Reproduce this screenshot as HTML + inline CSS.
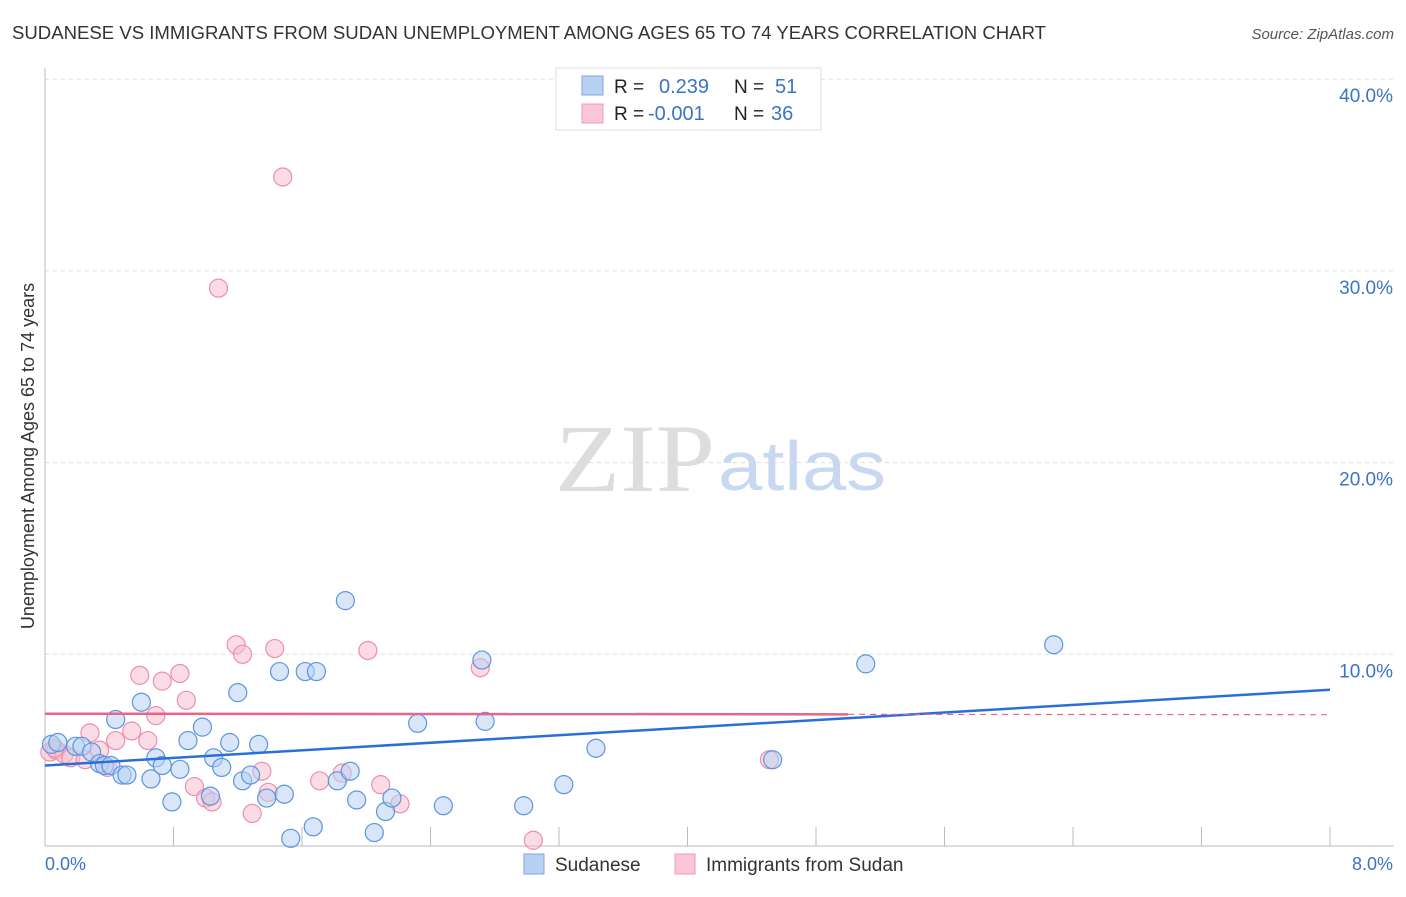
<!DOCTYPE html>
<html><head><meta charset="utf-8"><style>
body{margin:0;background:#fff;font-family:"Liberation Sans",sans-serif;}
</style></head><body>
<svg width="1406" height="892" id="chart" font-family="Liberation Sans, sans-serif">
<text x="12" y="39" font-size="18" fill="#333" textLength="1034" lengthAdjust="spacingAndGlyphs">SUDANESE VS IMMIGRANTS FROM SUDAN UNEMPLOYMENT AMONG AGES 65 TO 74 YEARS CORRELATION CHART</text>
<text x="1394" y="39" font-size="15" fill="#555" font-style="italic" text-anchor="end">Source: ZipAtlas.com</text>
<text x="555" y="491" font-size="96" fill="#ddd" textLength="160" lengthAdjust="spacingAndGlyphs" font-family="Liberation Serif, serif">ZIP</text>
<text x="718" y="490" font-size="70" fill="#c8d8f0" textLength="168" lengthAdjust="spacingAndGlyphs">atlas</text>
<g id="grid"></g>
<line x1="45" y1="68" x2="45" y2="846" stroke="#bbb"/>
<line x1="45" y1="846" x2="1394" y2="846" stroke="#bbb"/>
<text transform="translate(34,456) rotate(-90)" font-size="18" fill="#333" text-anchor="middle">Unemployment Among Ages 65 to 74 years</text>
<text x="45" y="870" font-size="18" fill="#3a74c9">0.0%</text>
<text x="1393" y="870" font-size="18" fill="#3a74c9" text-anchor="end">8.0%</text>
<g id="marks"></g>
<g>
<rect x="556" y="68" width="265" height="62" fill="#fff" stroke="#ddd"/>
<rect x="582" y="76" width="21" height="19" fill="#b8d1f3" stroke="#7aa6e6"/>
<rect x="582" y="104" width="21" height="19" fill="#fac6d6" stroke="#ee9ab5"/>
<text x="614" y="93" font-size="19" fill="#222">R = </text><text x="659" y="93" font-size="20" fill="#3a74c9">0.239</text>
<text x="734" y="93" font-size="19" fill="#222">N = </text><text x="775" y="93" font-size="20" fill="#3a74c9">51</text>
<text x="614" y="120" font-size="19" fill="#222">R = </text><text x="648" y="120" font-size="20" fill="#3a74c9">-0.001</text>
<text x="734" y="120" font-size="19" fill="#222">N = </text><text x="771" y="120" font-size="20" fill="#3a74c9">36</text>
</g>
<g>
<rect x="524" y="854" width="20" height="20" fill="#b8d1f3" stroke="#7aa6e6"/>
<text x="555" y="871" font-size="19" fill="#333">Sudanese</text>
<rect x="675" y="854" width="20" height="20" fill="#fac6d6" stroke="#ee9ab5"/>
<text x="706" y="871" font-size="19" fill="#333">Immigrants from Sudan</text>
</g>
</svg>
<script>
const yTicks=[10,20,30,40];
const yTickLabels=["10.0%","20.0%","30.0%","40.0%"];
const xTicks=[0.8,1.6,2.4,3.2,4.0,4.8,5.6,6.4,7.2,8.0];
const blueX=[0.04,0.08,0.19,0.23,0.29,0.34,0.37,0.41,0.48,0.51,0.60,0.44,0.66,0.69,0.73,0.79,0.84,0.89,0.98,1.03,1.05,1.10,1.15,1.20,1.23,1.28,1.33,1.38,1.46,1.49,1.53,1.62,1.69,1.67,1.82,1.87,1.90,1.94,2.05,2.12,2.16,2.32,2.48,2.72,2.74,2.98,3.23,3.43,5.11,6.28,4.53];
const blueY=[5.3,5.4,5.2,5.2,4.9,4.3,4.2,4.2,3.7,3.7,7.5,6.6,3.5,4.6,4.2,2.3,4.0,5.5,6.2,2.6,4.6,4.1,5.4,8.0,3.4,3.7,5.3,2.5,9.1,2.7,0.4,9.1,9.1,1.0,3.4,12.8,3.9,2.4,0.7,1.8,2.5,6.4,2.1,9.7,6.5,2.1,3.2,5.1,9.5,10.5,4.5];
const pinkX=[0.03,0.07,0.12,0.16,0.25,0.28,0.34,0.39,0.44,0.54,0.59,0.64,0.69,0.73,0.84,0.88,0.93,1.00,1.04,1.08,1.19,1.23,1.29,1.35,1.39,1.43,1.48,1.71,1.85,2.01,2.09,2.21,2.71,3.04,4.51,0.06];
const pinkY=[4.9,5.0,4.8,4.6,4.5,5.9,5.0,4.1,5.5,6.0,8.9,5.5,6.8,8.6,9.0,7.6,3.1,2.5,2.3,29.1,10.5,10.0,1.7,3.9,2.8,10.3,34.9,3.4,3.8,10.2,3.2,2.2,9.3,0.3,4.5,5.1];
const blueTrend=[0,4.2,8,8.15];
const pinkTrend=[0,6.9,8,6.85];
const NS="http://www.w3.org/2000/svg";
const X=v=>45+v/8*1285, Y=v=>846-v*19.17;
const grid=document.getElementById('grid'), marks=document.getElementById('marks');
function mk(t,a,p){const e=document.createElementNS(NS,t);for(const k in a)e.setAttribute(k,a[k]);p.appendChild(e);return e;}
yTicks.forEach((t,i)=>{
 const l=mk('line',{x1:45,x2:1394,y1:Y(t),y2:Y(t),stroke:'#ddd','stroke-dasharray':'4,4'},grid);
 
 
 const tx=mk('text',{x:1393,y:Y(t)+23,'font-size':19,fill:'#3a74c9','text-anchor':'end'},grid);
 tx.textContent=yTickLabels[i];
 
 
});
xTicks.forEach(t=>{
 const l=mk('line',{x1:X(t),x2:X(t),y1:827,y2:846,stroke:'#bbb'},grid);
 
 
});
function pts(xs,ys,fill,stroke,name){xs.forEach((x,i)=>{
 const c=mk('circle',{cx:X(x),cy:Y(ys[i]),r:9,fill:fill,'fill-opacity':0.55,stroke:stroke,'stroke-width':1.2},marks);
 
 
});}
pts(pinkX,pinkY,'#f8bfd0','#ec8fac','pink-point');
pts(blueX,blueY,'#b8d1f3','#5b94e0','blue-point');
let b=mk('line',{x1:X(blueTrend[0]),y1:Y(blueTrend[1]),x2:X(blueTrend[2]),y2:Y(blueTrend[3]),stroke:'#2a6fd6','stroke-width':2.5},marks);


const pm=5;
let p1=mk('line',{x1:X(pinkTrend[0]),y1:Y(pinkTrend[1]),x2:X(pm),y2:Y(pinkTrend[1]+(pinkTrend[3]-pinkTrend[1])*pm/8),stroke:'#e8648c','stroke-width':2.5},marks);


let p2=mk('line',{x1:X(pm),y1:Y(pinkTrend[1]+(pinkTrend[3]-pinkTrend[1])*pm/8),x2:X(pinkTrend[2]),y2:Y(pinkTrend[3]),stroke:'#e8648c','stroke-width':1.2,'stroke-dasharray':'6,5'},marks);


</script>
</body></html>
